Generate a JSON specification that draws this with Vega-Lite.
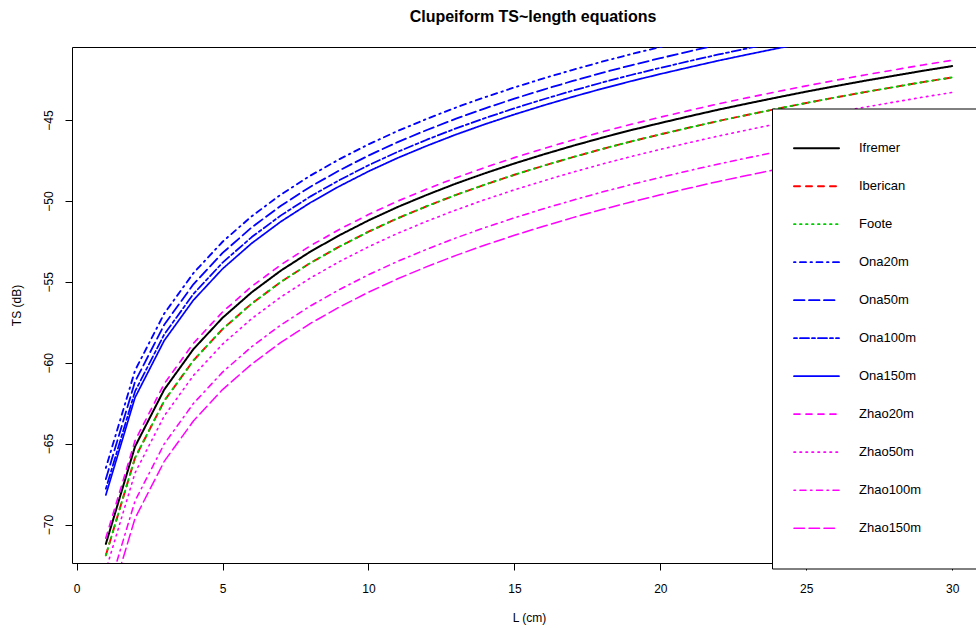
{
  "$schema": "https://vega.github.io/schema/vega-lite/v6.json",
  "autosize": {"type": "none"},
  "padding": {"left": 72, "top": 47, "right": -10, "bottom": 65},
  "width": 914,
  "height": 516,
  "title": {"text": "Clupeiform TS~length equations", "font": "Liberation Sans", "fontSize": 16, "fontWeight": "bold", "color": "black", "anchor": "middle", "offset": 22, "dx": 4},
  "data": {"values": [
    {"L":1,"Ifremer":-71.2,"Iberican":-71.9,"Foote":-71.9,"Ona20m":-66.5,"Ona50m":-67.19,"Ona100m":-67.79,"Ona150m":-68.17,"Zhao20m":-70.84,"Zhao50m":-72.83,"Zhao100m":-74.56,"Zhao150m":-75.64},
    {"L":2,"Ifremer":-65.18,"Iberican":-65.88,"Foote":-65.88,"Ona20m":-60.48,"Ona50m":-61.17,"Ona100m":-61.77,"Ona150m":-62.15,"Zhao20m":-64.82,"Zhao50m":-66.81,"Zhao100m":-68.54,"Zhao150m":-69.62},
    {"L":3,"Ifremer":-61.66,"Iberican":-62.36,"Foote":-62.36,"Ona20m":-56.96,"Ona50m":-57.65,"Ona100m":-58.25,"Ona150m":-58.63,"Zhao20m":-61.3,"Zhao50m":-63.29,"Zhao100m":-65.02,"Zhao150m":-66.1},
    {"L":4,"Ifremer":-59.16,"Iberican":-59.86,"Foote":-59.86,"Ona20m":-54.46,"Ona50m":-55.15,"Ona100m":-55.75,"Ona150m":-56.13,"Zhao20m":-58.8,"Zhao50m":-60.79,"Zhao100m":-62.52,"Zhao150m":-63.6},
    {"L":5,"Ifremer":-57.22,"Iberican":-57.92,"Foote":-57.92,"Ona20m":-52.52,"Ona50m":-53.21,"Ona100m":-53.81,"Ona150m":-54.19,"Zhao20m":-56.86,"Zhao50m":-58.85,"Zhao100m":-60.58,"Zhao150m":-61.66},
    {"L":6,"Ifremer":-55.64,"Iberican":-56.34,"Foote":-56.34,"Ona20m":-50.94,"Ona50m":-51.63,"Ona100m":-52.23,"Ona150m":-52.61,"Zhao20m":-55.28,"Zhao50m":-57.27,"Zhao100m":-59.0,"Zhao150m":-60.08},
    {"L":7,"Ifremer":-54.3,"Iberican":-55.0,"Foote":-55.0,"Ona20m":-49.6,"Ona50m":-50.29,"Ona100m":-50.89,"Ona150m":-51.27,"Zhao20m":-53.94,"Zhao50m":-55.93,"Zhao100m":-57.66,"Zhao150m":-58.74},
    {"L":8,"Ifremer":-53.14,"Iberican":-53.84,"Foote":-53.84,"Ona20m":-48.44,"Ona50m":-49.13,"Ona100m":-49.73,"Ona150m":-50.11,"Zhao20m":-52.78,"Zhao50m":-54.77,"Zhao100m":-56.5,"Zhao150m":-57.58},
    {"L":9,"Ifremer":-52.12,"Iberican":-52.82,"Foote":-52.82,"Ona20m":-47.42,"Ona50m":-48.11,"Ona100m":-48.71,"Ona150m":-49.09,"Zhao20m":-51.76,"Zhao50m":-53.75,"Zhao100m":-55.48,"Zhao150m":-56.56},
    {"L":10,"Ifremer":-51.2,"Iberican":-51.9,"Foote":-51.9,"Ona20m":-46.5,"Ona50m":-47.19,"Ona100m":-47.79,"Ona150m":-48.17,"Zhao20m":-50.84,"Zhao50m":-52.83,"Zhao100m":-54.56,"Zhao150m":-55.64},
    {"L":11,"Ifremer":-50.37,"Iberican":-51.07,"Foote":-51.07,"Ona20m":-45.67,"Ona50m":-46.36,"Ona100m":-46.96,"Ona150m":-47.34,"Zhao20m":-50.01,"Zhao50m":-52.0,"Zhao100m":-53.73,"Zhao150m":-54.81},
    {"L":12,"Ifremer":-49.62,"Iberican":-50.32,"Foote":-50.32,"Ona20m":-44.92,"Ona50m":-45.61,"Ona100m":-46.21,"Ona150m":-46.59,"Zhao20m":-49.26,"Zhao50m":-51.25,"Zhao100m":-52.98,"Zhao150m":-54.06},
    {"L":13,"Ifremer":-48.92,"Iberican":-49.62,"Foote":-49.62,"Ona20m":-44.22,"Ona50m":-44.91,"Ona100m":-45.51,"Ona150m":-45.89,"Zhao20m":-48.56,"Zhao50m":-50.55,"Zhao100m":-52.28,"Zhao150m":-53.36},
    {"L":14,"Ifremer":-48.28,"Iberican":-48.98,"Foote":-48.98,"Ona20m":-43.58,"Ona50m":-44.27,"Ona100m":-44.87,"Ona150m":-45.25,"Zhao20m":-47.92,"Zhao50m":-49.91,"Zhao100m":-51.64,"Zhao150m":-52.72},
    {"L":15,"Ifremer":-47.68,"Iberican":-48.38,"Foote":-48.38,"Ona20m":-42.98,"Ona50m":-43.67,"Ona100m":-44.27,"Ona150m":-44.65,"Zhao20m":-47.32,"Zhao50m":-49.31,"Zhao100m":-51.04,"Zhao150m":-52.12},
    {"L":16,"Ifremer":-47.12,"Iberican":-47.82,"Foote":-47.82,"Ona20m":-42.42,"Ona50m":-43.11,"Ona100m":-43.71,"Ona150m":-44.09,"Zhao20m":-46.76,"Zhao50m":-48.75,"Zhao100m":-50.48,"Zhao150m":-51.56},
    {"L":17,"Ifremer":-46.59,"Iberican":-47.29,"Foote":-47.29,"Ona20m":-41.89,"Ona50m":-42.58,"Ona100m":-43.18,"Ona150m":-43.56,"Zhao20m":-46.23,"Zhao50m":-48.22,"Zhao100m":-49.95,"Zhao150m":-51.03},
    {"L":18,"Ifremer":-46.09,"Iberican":-46.79,"Foote":-46.79,"Ona20m":-41.39,"Ona50m":-42.08,"Ona100m":-42.68,"Ona150m":-43.06,"Zhao20m":-45.73,"Zhao50m":-47.72,"Zhao100m":-49.45,"Zhao150m":-50.53},
    {"L":19,"Ifremer":-45.62,"Iberican":-46.32,"Foote":-46.32,"Ona20m":-40.92,"Ona50m":-41.61,"Ona100m":-42.21,"Ona150m":-42.59,"Zhao20m":-45.26,"Zhao50m":-47.25,"Zhao100m":-48.98,"Zhao150m":-50.06},
    {"L":20,"Ifremer":-45.18,"Iberican":-45.88,"Foote":-45.88,"Ona20m":-40.48,"Ona50m":-41.17,"Ona100m":-41.77,"Ona150m":-42.15,"Zhao20m":-44.82,"Zhao50m":-46.81,"Zhao100m":-48.54,"Zhao150m":-49.62},
    {"L":21,"Ifremer":-44.76,"Iberican":-45.46,"Foote":-45.46,"Ona20m":-40.06,"Ona50m":-40.75,"Ona100m":-41.35,"Ona150m":-41.73,"Zhao20m":-44.4,"Zhao50m":-46.39,"Zhao100m":-48.12,"Zhao150m":-49.2},
    {"L":22,"Ifremer":-44.35,"Iberican":-45.05,"Foote":-45.05,"Ona20m":-39.65,"Ona50m":-40.34,"Ona100m":-40.94,"Ona150m":-41.32,"Zhao20m":-43.99,"Zhao50m":-45.98,"Zhao100m":-47.71,"Zhao150m":-48.79},
    {"L":23,"Ifremer":-43.97,"Iberican":-44.67,"Foote":-44.67,"Ona20m":-39.27,"Ona50m":-39.96,"Ona100m":-40.56,"Ona150m":-40.94,"Zhao20m":-43.61,"Zhao50m":-45.6,"Zhao100m":-47.33,"Zhao150m":-48.41},
    {"L":24,"Ifremer":-43.6,"Iberican":-44.3,"Foote":-44.3,"Ona20m":-38.9,"Ona50m":-39.59,"Ona100m":-40.19,"Ona150m":-40.57,"Zhao20m":-43.24,"Zhao50m":-45.23,"Zhao100m":-46.96,"Zhao150m":-48.04},
    {"L":25,"Ifremer":-43.24,"Iberican":-43.94,"Foote":-43.94,"Ona20m":-38.54,"Ona50m":-39.23,"Ona100m":-39.83,"Ona150m":-40.21,"Zhao20m":-42.88,"Zhao50m":-44.87,"Zhao100m":-46.6,"Zhao150m":-47.68},
    {"L":26,"Ifremer":-42.9,"Iberican":-43.6,"Foote":-43.6,"Ona20m":-38.2,"Ona50m":-38.89,"Ona100m":-39.49,"Ona150m":-39.87,"Zhao20m":-42.54,"Zhao50m":-44.53,"Zhao100m":-46.26,"Zhao150m":-47.34},
    {"L":27,"Ifremer":-42.57,"Iberican":-43.27,"Foote":-43.27,"Ona20m":-37.87,"Ona50m":-38.56,"Ona100m":-39.16,"Ona150m":-39.54,"Zhao20m":-42.21,"Zhao50m":-44.2,"Zhao100m":-45.93,"Zhao150m":-47.01},
    {"L":28,"Ifremer":-42.26,"Iberican":-42.96,"Foote":-42.96,"Ona20m":-37.56,"Ona50m":-38.25,"Ona100m":-38.85,"Ona150m":-39.23,"Zhao20m":-41.9,"Zhao50m":-43.89,"Zhao100m":-45.62,"Zhao150m":-46.7},
    {"L":29,"Ifremer":-41.95,"Iberican":-42.65,"Foote":-42.65,"Ona20m":-37.25,"Ona50m":-37.94,"Ona100m":-38.54,"Ona150m":-38.92,"Zhao20m":-41.59,"Zhao50m":-43.58,"Zhao100m":-45.31,"Zhao150m":-46.39},
    {"L":30,"Ifremer":-41.66,"Iberican":-42.36,"Foote":-42.36,"Ona20m":-36.96,"Ona50m":-37.65,"Ona100m":-38.25,"Ona150m":-38.63,"Zhao20m":-41.3,"Zhao50m":-43.29,"Zhao100m":-45.02,"Zhao150m":-46.1}
  ]},
  "transform": [
    {"fold": ["Ifremer","Iberican","Foote","Ona20m","Ona50m","Ona100m","Ona150m","Zhao20m","Zhao50m","Zhao100m","Zhao150m"], "as": ["series","TS"]}
  ],
  "mark": {"type": "line", "clip": true, "strokeCap": "round", "strokeJoin": "round"},
  "encoding": {
    "x": {"field": "L", "type": "quantitative",
      "scale": {"domain": [-0.16, 31.16], "nice": false, "zero": false},
      "axis": {"values": [0,5,10,15,20,25,30], "title": "L (cm)", "labelBaseline": "top", "labelPadding": 13, "titlePadding": 18}},
    "y": {"field": "TS", "type": "quantitative",
      "scale": {"domain": [-72.38, -40.48], "nice": false, "zero": false},
      "axis": {"values": [-70,-65,-60,-55,-50,-45], "title": "TS (dB)", "labelAngle": 270, "labelAlign": "center", "labelBaseline": "bottom", "labelPadding": 10, "titlePadding": 19}},
    "color": {"field": "series", "type": "nominal",
      "scale": {"domain": ["Ifremer","Iberican","Foote","Ona20m","Ona50m","Ona100m","Ona150m","Zhao20m","Zhao50m","Zhao100m","Zhao150m"],
                "range": ["#000000","#FF0000","#00CD00","#0000FF","#0000FF","#0000FF","#0000FF","#FF00FF","#FF00FF","#FF00FF","#FF00FF"]},
      "legend": {"orient": "none", "legendX": 700, "legendY": 61.5, "title": null,
        "symbolType": "stroke", "symbolSize": 2025, "symbolStrokeWidth": 1.5,
        "labelFont": "Liberation Sans", "labelFontSize": 13, "labelColor": "black", "labelOffset": 19,
        "clipHeight": 37.3, "rowPadding": 0, "padding": 21,
        "strokeColor": "black", "fillColor": "white",
        "encode": {"entries": {"update": {"width": {"value": 200}}}, "symbols": {"update": {"strokeCap": {"value": "round"}}}}}},
    "strokeDash": {"field": "series", "type": "nominal",
      "scale": {"domain": ["Ifremer","Iberican","Foote","Ona20m","Ona50m","Ona100m","Ona150m","Zhao20m","Zhao50m","Zhao100m","Zhao150m"],
                "range": [[1,0],[6,6],[1.5,4.5],[1.5,4.5,6,4.5],[10.5,4.5],[3,3,9,3],[1,0],[6,6],[1.5,4.5],[1.5,4.5,6,4.5],[10.5,4.5]]}},
    "strokeWidth": {"field": "series", "type": "nominal", "legend": null,
      "scale": {"domain": ["Ifremer","Iberican","Foote","Ona20m","Ona50m","Ona100m","Ona150m","Zhao20m","Zhao50m","Zhao100m","Zhao150m"],
                "range": [2,1.5,1.5,1.5,1.5,1.5,1.5,1.5,1.5,1.5,1.5]}}
  },
  "config": {
    "view": {"stroke": "black", "strokeWidth": 1},
    "axis": {"labelFont": "Liberation Sans", "titleFont": "Liberation Sans", "labelFontSize": 12, "titleFontSize": 12,
      "labelColor": "black", "titleColor": "black", "tickColor": "black", "tickSize": 7, "domain": false, "grid": false, "titleFontWeight": "normal"}
  }
}
